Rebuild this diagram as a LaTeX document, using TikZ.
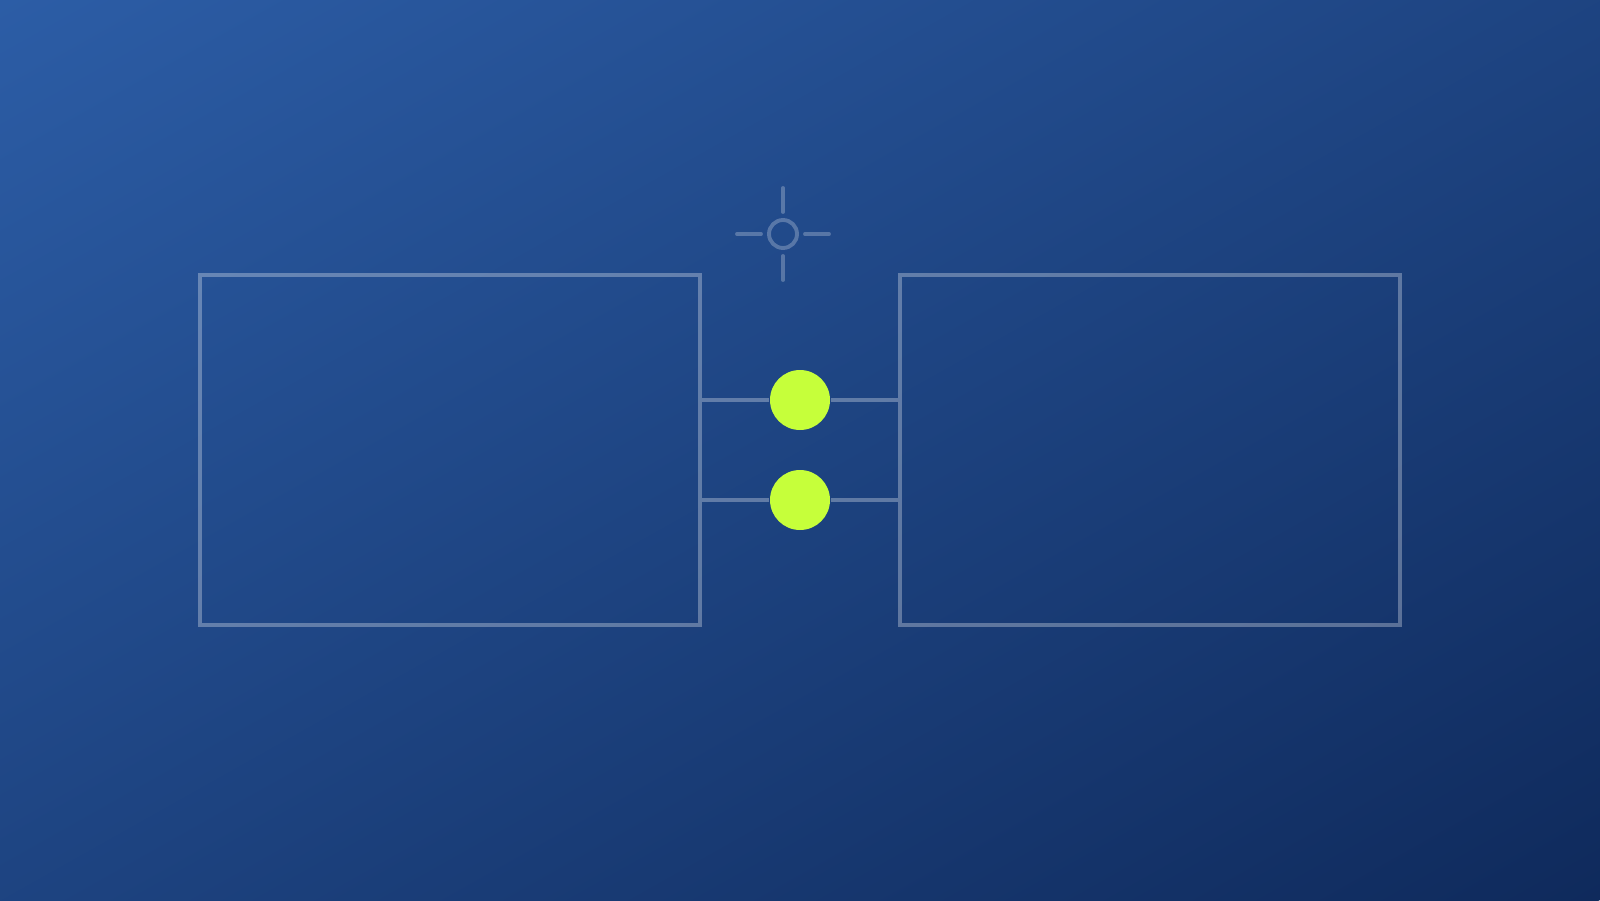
\documentclass[tikz,border=0pt]{standalone}
\usetikzlibrary{arrows.meta}

\definecolor{bgtop}{RGB}{44,93,166}
\definecolor{bgbot}{RGB}{15,42,92}
\definecolor{lime}{RGB}{198,255,58}

\tikzset{
  panel/.style={rectangle, draw=white, draw opacity=0.3, line width=1.2pt,
    minimum width=5cm, minimum height=3.5cm, inner sep=0pt},
  link/.style={draw=white, draw opacity=0.3, line width=1.2pt},
  dot/.style={circle, fill=lime, minimum size=0.6cm, inner sep=0pt},
  aim/.style={draw=white, draw opacity=0.25, line width=1.1pt, line cap=round}
}

\begin{document}
\begin{tikzpicture}
  \useasboundingbox (0,0) rectangle (16,9);
  % background gradient, corner to corner
  \begin{scope}
    \clip (0,0) rectangle (16,9);
    \begin{scope}[transform canvas={cm={16,0,0,9,(0,0)}}]
      \begin{scope}[transform canvas={rotate around={-45:(0.5,0.5)}}]
        \shade[left color=bgtop, right color=bgbot]
          (-0.2071,-0.3) rectangle (1.2071,1.3);
      \end{scope}
    \end{scope}
  \end{scope}

  \node[panel] (L) at (4.5,4.5) {};
  \node[panel] (R) at (11.5,4.5) {};
  \node[dot] (D1) at (8,5) {};
  \node[dot] (D2) at (8,4) {};
  \draw[link] (L.east |- D1) -- (D1);
  \draw[link] (D1) -- (R.west |- D1);
  \draw[link] (L.east |- D2) -- (D2);
  \draw[link] (D2) -- (R.west |- D2);

  % crosshair
  \coordinate (C) at (7.83,6.66);
  \draw[aim] (C) circle (0.14);
  \draw[aim] ([yshift=0.22cm]C) -- ([yshift=0.46cm]C);
  \draw[aim] ([yshift=-0.22cm]C) -- ([yshift=-0.46cm]C);
  \draw[aim] ([xshift=-0.22cm]C) -- ([xshift=-0.46cm]C);
  \draw[aim] ([xshift=0.22cm]C) -- ([xshift=0.46cm]C);
\end{tikzpicture}
\end{document}
